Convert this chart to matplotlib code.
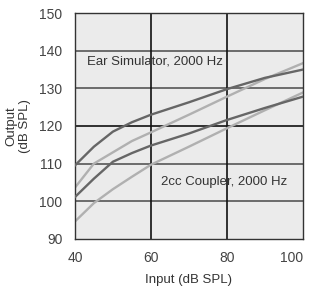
import matplotlib.pyplot as plt

plt.rcParams['font.family'] = ['Liberation Sans', 'DejaVu Sans']

x_in = [40, 45, 50, 55, 60, 70, 80, 90, 100]
ear_dark = [109.5, 114.5, 118.5, 121.0, 123.0, 126.3, 129.8, 132.8, 135.0]
ear_light = [103.6, 110.0, 113.0, 116.0, 118.3, 123.0, 127.8, 132.5, 136.7]
cc_dark = [101.1, 106.0, 110.5, 112.8, 114.8, 118.0, 121.6, 124.8, 127.8]
cc_light = [94.6, 99.5, 103.2, 106.5, 109.7, 114.5, 119.4, 124.2, 128.9]

xticks = [40, 60, 80, 100]
yticks = [90, 100, 110, 120, 130, 140, 150]

fig = plt.figure(figsize=(3.12, 2.92), dpi=100)
ax = fig.add_axes([0.240, 0.182, 0.731, 0.773])
ax.set_facecolor('#ebebeb')

for yv in [100, 110, 130, 140]:
    ax.axhline(yv, color='#555555', lw=1.2, zorder=1)
ax.axhline(120, color='#111111', lw=1.2, zorder=1)
for xv in [60, 80]:
    ax.axvline(xv, color='#111111', lw=1.2, zorder=1)

ax.plot(x_in, ear_light, color='#b0b0b0', lw=1.7, zorder=2)
ax.plot(x_in, cc_light, color='#b0b0b0', lw=1.7, zorder=2)
ax.plot(x_in, ear_dark, color='#666666', lw=1.7, zorder=3)
ax.plot(x_in, cc_dark, color='#666666', lw=1.7, zorder=3)

ax.text(43.1, 137.1, 'Ear Simulator, 2000 Hz', fontsize=9.5, color='#333333',
        va='center', ha='left', zorder=4)
ax.text(62.6, 105.0, '2cc Coupler, 2000 Hz', fontsize=9.5, color='#333333',
        va='center', ha='left', zorder=4)

ax.set_xlim(40, 100)
ax.set_ylim(90, 150)
ax.set_xticks(xticks)
ax.set_yticks(yticks)
ax.tick_params(axis='both', length=0, labelsize=10, labelcolor='#444444')
ax.tick_params(axis='x', pad=9)
ax.tick_params(axis='y', pad=9)
ax.get_xticklabels()[-1].set_ha('right')
for s in ax.spines.values():
    s.set_color('#333333')
    s.set_linewidth(1.0)

ax.set_xlabel('Input (dB SPL)', fontsize=9.5, color='#333333', labelpad=6)
ax.set_ylabel('Output\n(dB SPL)', fontsize=9.5, color='#333333', labelpad=6,
              linespacing=1.2)

fig.savefig('out.png', dpi=100)
